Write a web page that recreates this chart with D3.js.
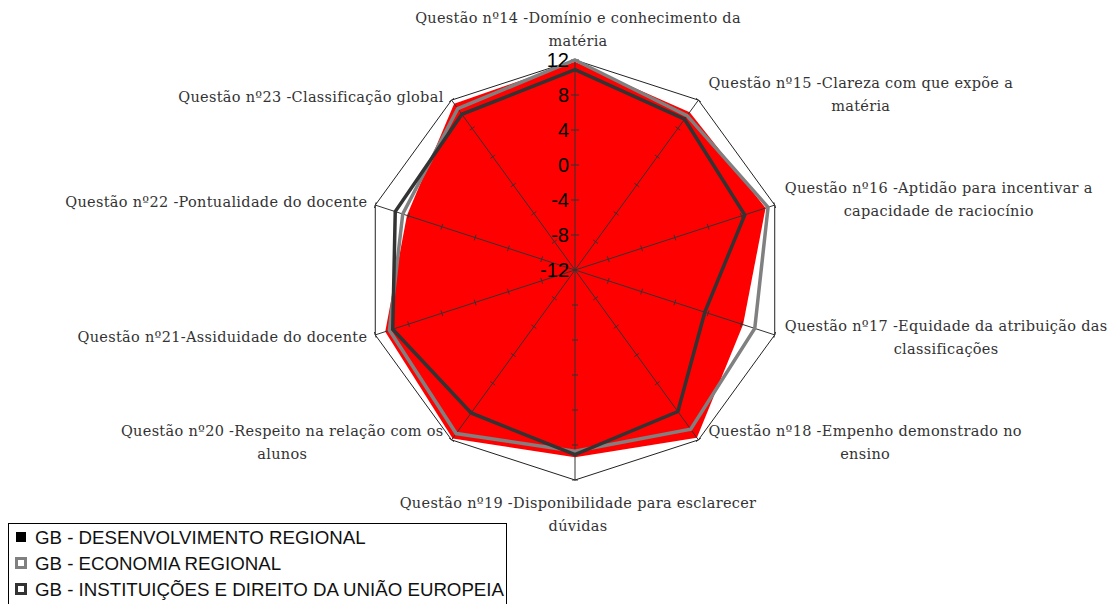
<!DOCTYPE html>
<html lang="pt">
<head>
    <meta charset="UTF-8">
    <title>Radar - Questões</title>
    <script src="https://d3js.org/d3.v7.min.js"></script>
    <style>
        body {
            margin: 0;
            width: 1117px;
            height: 604px;
            background: white;
            overflow: hidden;
        }

        .cat-label {
            font-family: "DejaVu Serif", serif;
            font-size: 14.5px;
            letter-spacing: 0.3px;
            fill: #333;
        }

        .axis-label {
            font-family: "Liberation Sans", Arial, sans-serif;
            font-size: 20px;
            fill: #000;
        }

        .legend-text {
            font-family: "Liberation Sans", Arial, sans-serif;
            font-size: 18.7px;
            fill: #111;
        }
    </style>
</head>
<body>
    <svg id="chart" width="1117" height="604"></svg>

    <script>
        // categories, clockwise from the top (each entry = lines of the label)
        const categories = [
            ["Questão nº14 -Domínio e conhecimento da", "matéria"],
            ["Questão nº15 -Clareza com que expõe a", "matéria"],
            ["Questão nº16 -Aptidão para incentivar a", "capacidade de raciocínio"],
            ["Questão nº17 -Equidade da atribuição das", "classificações"],
            ["Questão nº18 -Empenho demonstrado no", "ensino"],
            ["Questão nº19 -Disponibilidade para esclarecer", "dúvidas"],
            ["Questão nº20 -Respeito na relação com os", "alunos"],
            ["Questão nº21-Assiduidade do docente"],
            ["Questão nº22 -Pontualidade do docente"],
            ["Questão nº23 -Classificação global"]
        ];

        const desenvolvimento = [11.8, 10.3, 10.9, 8.2, 11.7, 9.4, 11.8, 10.8, 8.2, 11.5];
        const economia        = [12.0, 9.8, 11.2, 9.6, 10.5, 8.7, 11.1, 10.3, 8.7, 10.8];
        const instituicoes    = [10.9, 9.3, 8.4, 3.6, 8.0, 9.1, 8.2, 9.9, 9.6, 10.0];

        const seriesNames = [
            "GB - DESENVOLVIMENTO REGIONAL",
            "GB - ECONOMIA REGIONAL",
            "GB - INSTITUIÇÕES E DIREITO DA UNIÃO EUROPEIA"
        ];

        const tickValues = [-12, -8, -4, 0, 4, 8, 12];

        const svg = d3.select('#chart');
        const cx = 575, cy = 270, radius = 210;
        const n = categories.length;

        const r = d3.scaleLinear().domain([-12, 12]).range([0, radius]);
        const angle = d3.scaleLinear().domain([0, n]).range([0, 2 * Math.PI]);

        const g = svg.append('g').attr('transform', `translate(${cx},${cy})`);

        const radial = d3.lineRadial()
            .angle((d, i) => angle(i))
            .radius(d => r(d))
            .curve(d3.curveLinearClosed);

        // point helper (x, y) for index i at value v
        const pt = (i, v) => [
            r(v) * Math.sin(angle(i)),
            -r(v) * Math.cos(angle(i))
        ];

        // red filled series
        g.append('path')
            .datum(desenvolvimento)
            .attr('d', radial)
            .attr('fill', '#ff0000')
            .attr('stroke', 'none');

        // outer frame
        g.append('path')
            .datum(categories.map(() => 12))
            .attr('d', radial)
            .attr('fill', 'none')
            .attr('stroke', '#222')
            .attr('stroke-width', 1);

        // spokes
        g.append('g').selectAll('line')
            .data(categories)
            .join('line')
            .attr('x1', 0).attr('y1', 0)
            .attr('x2', (d, i) => pt(i, 12)[0])
            .attr('y2', (d, i) => pt(i, 12)[1])
            .attr('stroke', '#333')
            .attr('stroke-width', 1);

        // tick marks on the spokes
        const tickData = [];
        categories.forEach((c, i) => {
            tickValues.slice(1).forEach(v => tickData.push({ i, v }));
        });
        g.append('g').selectAll('line')
            .data(tickData)
            .join('line')
            .each(function (d) {
                const a = angle(d.i);
                const [x, y] = pt(d.i, d.v);
                const len = d.i === 0 ? 4 : 3;
                const px = Math.cos(a) * len, py = Math.sin(a) * len;
                d3.select(this)
                    .attr('x1', x - px).attr('y1', y - py)
                    .attr('x2', x + px).attr('y2', y + py);
            })
            .attr('stroke', '#333')
            .attr('stroke-width', 1);

        // line series
        g.append('path')
            .datum(economia)
            .attr('d', radial)
            .attr('fill', 'none')
            .attr('stroke', '#808080')
            .attr('stroke-width', 3.5)
            .attr('stroke-linejoin', 'miter');

        g.append('path')
            .datum(instituicoes)
            .attr('d', radial)
            .attr('fill', 'none')
            .attr('stroke', '#333333')
            .attr('stroke-width', 3.5)
            .attr('stroke-linejoin', 'miter');

        // value axis labels
        g.append('g').selectAll('text')
            .data(tickValues)
            .join('text')
            .attr('class', 'axis-label')
            .attr('x', -6)
            .attr('y', d => -r(d))
            .attr('dy', '0.35em')
            .attr('text-anchor', 'end')
            .text(d => d);

        // category labels
        const lineH = 23;
        categories.forEach((lines, i) => {
            const [vx, vy] = pt(i, 12);
            const s = Math.sin(angle(i));
            const c = Math.cos(angle(i));
            const t = g.append('text').attr('class', 'cat-label');
            lines.forEach(ln => t.append('tspan').text(ln));
            const widths = [];
            t.selectAll('tspan').each(function () { widths.push(this.getComputedTextLength()); });
            const w = d3.max(widths);
            const h = lines.length * lineH;
            let centerX, topY;
            if (Math.abs(s) < 0.01) {
                centerX = vx + 3;
                topY = c > 0 ? vy - h - 7 : vy + 12;
            } else if (s > 0) {
                centerX = vx + 10 + w / 2;
                topY = vy - h / 2 - (c > 0 ? 5 : -3);
            } else {
                centerX = vx - 8 - w / 2;
                topY = vy - h / 2 - (c > 0 ? 3 : -3);
            }
            t.attr('text-anchor', 'middle');
            t.selectAll('tspan')
                .attr('x', centerX)
                .attr('y', (d, k) => topY + k * lineH + 16);
        });

        // legend
        const legend = svg.append('g');
        legend.append('rect')
            .attr('x', 8.5).attr('y', 523.5)
            .attr('width', 498).attr('height', 90)
            .attr('fill', 'white')
            .attr('stroke', '#000')
            .attr('stroke-width', 1);

        const legendY = d3.scalePoint().domain(seriesNames).range([537, 589]);
        const markerStyle = [
            { fill: '#000', stroke: '#000' },
            { fill: '#fff', stroke: '#808080' },
            { fill: '#fff', stroke: '#333' }
        ];

        const items = legend.selectAll('g.item')
            .data(seriesNames)
            .join('g')
            .attr('class', 'item')
            .attr('transform', d => `translate(0,${legendY(d)})`);

        items.append('rect')
            .attr('x', 16.5).attr('y', -4.5)
            .attr('width', 9).attr('height', 9)
            .attr('fill', (d, i) => markerStyle[i].fill)
            .attr('stroke', (d, i) => markerStyle[i].stroke)
            .attr('stroke-width', (d, i) => i === 0 ? 1 : 3);

        items.append('text')
            .attr('class', 'legend-text')
            .attr('x', 35)
            .attr('dy', '0.35em')
            .text(d => d);
    </script>
</body>
</html>
